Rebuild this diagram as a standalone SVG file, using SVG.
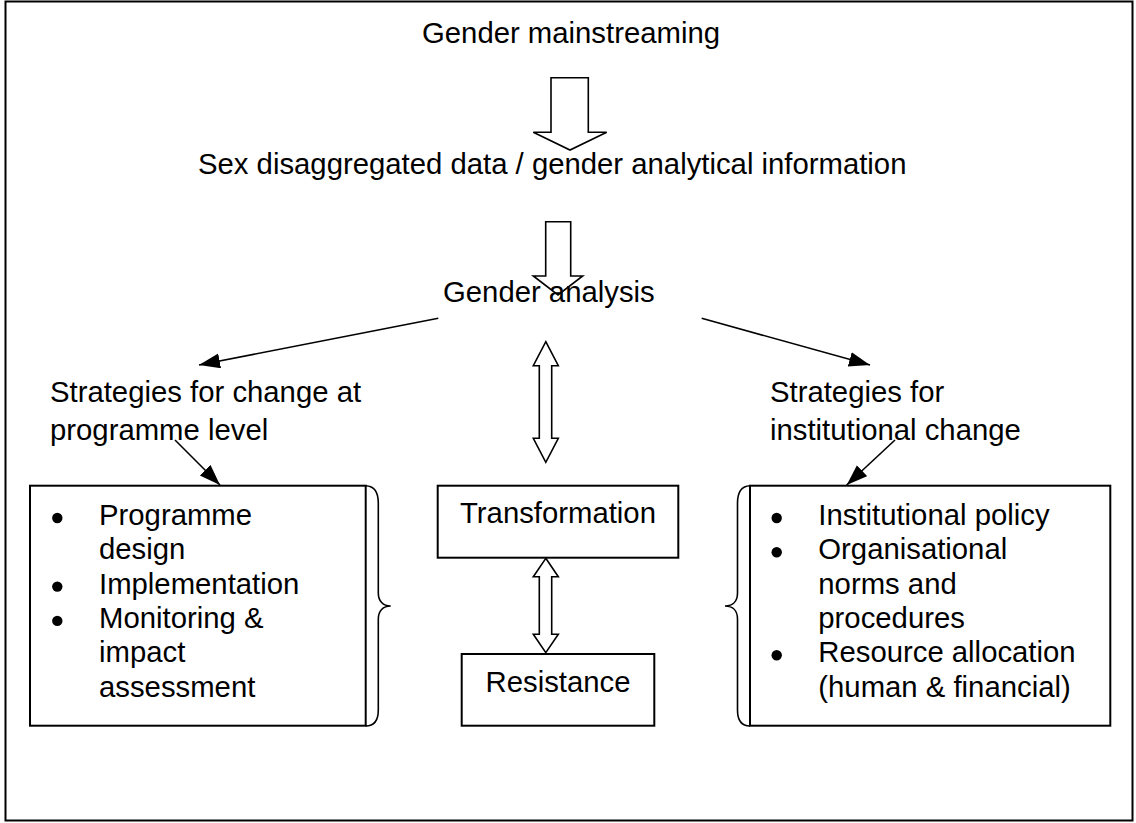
<svg xmlns="http://www.w3.org/2000/svg" width="1136" height="823" viewBox="0 0 1136 823">
<defs>
<style>
text{font-family:"Liberation Sans",Arial,sans-serif;font-size:29.3px;fill:#000}
.box{fill:#fff;stroke:#000;stroke-width:2}
.blk{fill:#fff;stroke:#000;stroke-width:1.6;stroke-linejoin:miter}
.ln{stroke:#000;stroke-width:1.6;fill:none}
.brace{fill:none;stroke:#000;stroke-width:1.6}
.mid{text-anchor:middle}
</style>
<marker id="ah" markerUnits="userSpaceOnUse" markerWidth="24" markerHeight="18" refX="21" refY="7.5" orient="auto">
<path d="M0,0 L21,7.5 L0,15 z" fill="#000"/>
</marker>
</defs>
<rect x="5.5" y="1.5" width="1127" height="819" fill="#fff" stroke="#000" stroke-width="2"/>

<g id="connectors">
<polygon class="blk" points="551,77.7 588.3,77.7 588.3,132.3 606.7,132.3 570,150 533.3,132.3 551,132.3"/>
<line class="ln" x1="438.3" y1="318.3" x2="199" y2="365" marker-end="url(#ah)"/>
<line class="ln" x1="701.7" y1="318.3" x2="870" y2="365" marker-end="url(#ah)"/>
<line class="ln" x1="175" y1="440" x2="220" y2="485" marker-end="url(#ah)"/>
<line class="ln" x1="895" y1="440" x2="846.7" y2="485" marker-end="url(#ah)"/>
<polygon class="blk" points="545.8,341.7 558.3,365.7 551.7,365.7 551.7,438.3 558.3,438.3 545.8,462.3 533.3,438.3 539.3,438.3 539.3,365.7 533.3,365.7"/>
<polygon class="blk" points="545.8,558.3 558.3,576.7 551.7,576.7 551.7,634.3 558.3,634.3 545.8,652.7 533.3,634.3 539.3,634.3 539.3,576.7 533.3,576.7"/>
</g>

<g id="n-mainstreaming"><text x="422" y="43.3">Gender mainstreaming</text></g>
<g id="n-data"><text x="198" y="174">Sex disaggregated data / gender analytical information</text></g>
<g id="n-analysis"><text x="443" y="301.7">Gender analysis</text></g>
<g id="arrow-data-analysis">
<polygon class="blk" style="fill:none" points="545.7,221.7 570.7,221.7 570.7,276 582.7,276 558,295 533.3,276 545.7,276"/>
</g>

<g id="n-prog-strat"><text x="50" y="401.7">Strategies for change at</text><text x="50" y="440">programme level</text></g>
<g id="n-inst-strat"><text x="770" y="401.7">Strategies for</text><text x="770" y="440">institutional change</text></g>

<g id="n-prog-box">
<rect class="box" x="30" y="485.7" width="335.7" height="240"/>
<path class="brace" d="M365.7,485.7 C374,486 378.3,492 378.3,503 L378.3,593 C378.3,601 383,606 390.7,606 C383,606 378.3,611 378.3,619 L378.3,710 C378.3,720 374,726 365.7,726"/>
<circle cx="57.3" cy="518" r="5.2"/>
<circle cx="57.3" cy="586.6" r="5.2"/>
<circle cx="57.3" cy="620.9" r="5.2"/>
<text x="99" y="525">Programme</text>
<text x="99" y="559.3">design</text>
<text x="99" y="593.6">Implementation</text>
<text x="99" y="627.9">Monitoring &amp;</text>
<text x="99" y="662.2">impact</text>
<text x="99" y="696.5">assessment</text>
</g>

<g id="n-inst-box">
<rect class="box" x="750" y="485.7" width="360.3" height="240"/>
<path class="brace" d="M750,485.7 C741.7,486 737.5,492 737.5,503 L737.5,593 C737.5,601 733,606 725,606 C733,606 737.5,611 737.5,619 L737.5,710 C737.5,720 741.7,726 750,726"/>
<circle cx="776.7" cy="518" r="5.2"/>
<circle cx="776.7" cy="552.3" r="5.2"/>
<circle cx="776.7" cy="655.2" r="5.2"/>
<text x="818.3" y="525">Institutional policy</text>
<text x="818.3" y="559.3">Organisational</text>
<text x="818.3" y="593.6">norms and</text>
<text x="818.3" y="627.9">procedures</text>
<text x="818.3" y="662.2">Resource allocation</text>
<text x="818.3" y="696.5">(human &amp; financial)</text>
</g>

<g id="n-transformation">
<rect class="box" x="437.7" y="485.7" width="240.6" height="72"/>
<text class="mid" x="558" y="523">Transformation</text>
</g>
<g id="n-resistance">
<rect class="box" x="461.7" y="654" width="192.6" height="71.7"/>
<text class="mid" x="558" y="691.5">Resistance</text>
</g>
</svg>
